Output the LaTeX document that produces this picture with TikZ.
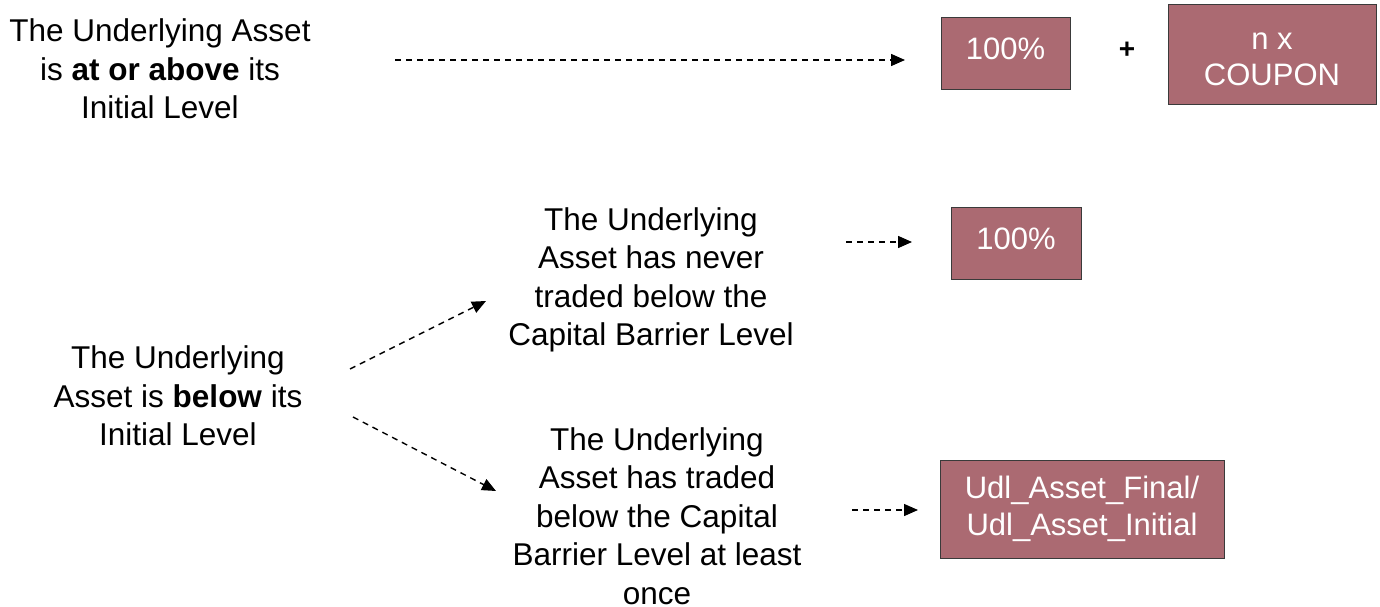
\documentclass[tikz,border=0pt]{standalone}
\usepackage{fontspec}
\setmainfont{Liberation Sans}
\usetikzlibrary{arrows.meta}
\definecolor{boxfill}{HTML}{AB6A72}
\definecolor{boxline}{HTML}{3A3A3A}
\tikzset{
  txt/.style={align=center,inner sep=0pt,font=\fontsize{31.5}{38.5}\selectfont},
  payoff/.style={draw=boxline,line width=1pt,fill=boxfill,text=white,align=center,inner sep=0pt,font=\fontsize{31}{37.5}\selectfont},
  payofftext/.style={text=white,align=center,inner sep=0pt,font=\fontsize{31}{35.5}\selectfont},
  darrow/.style={dashed,dash pattern=on 6pt off 5pt,line width=1.4pt,-{Triangle[length=14pt,width=12pt]}}
}
\begin{document}
\begin{tikzpicture}[x=1pt,y=-1pt]
\useasboundingbox (0,0) rectangle (1380,607);
% texts
\node[txt] (up) at (160,69) {The Underlying Asset\\is \textbf{at or above} its\\Initial Level};
\node[txt] (down) at (178,396) {The Underlying\\Asset is \textbf{below} its\\Initial Level};
\node[txt] (never) at (651,280) {The Underlying\\Asset has never\\traded below the\\Capital Barrier Level};
\node[txt] (once) at (657,516) {The Underlying\\Asset has traded\\below the Capital\\Barrier Level at least\\once};
% boxes
\node[payoff,minimum width=129pt,minimum height=72pt] (b1) at (1005.5,54) {\raisebox{10pt}{100\%}};
\node (plus) at (1127,50) {\fontsize{28}{30}\selectfont\textbf{+}};
\node[payoff,minimum width=208pt,minimum height=100pt,
      label={[payofftext,yshift=-4.5pt]center:{n x\\COUPON}}] (b2) at (1272,55) {};
\node[payoff,minimum width=130pt,minimum height=72pt] (b3) at (1016,243) {\raisebox{8pt}{100\%}};
\node[payoff,minimum width=284pt,minimum height=98pt] (b4) at (1082,509) {Udl\_Asset\_Final/\\Udl\_Asset\_Initial};
% arrow ends
\coordinate (a1s) at (395,60); \coordinate (a1e) at (905,60);
\coordinate (a2s) at (846,242); \coordinate (a2e) at (912,242);
\coordinate (a3s) at (350,369); \coordinate (a3e) at (486,301);
\coordinate (a4s) at (353,417); \coordinate (a4e) at (496,491);
\coordinate (a5s) at (852,510); \coordinate (a5e) at (918,510);
\draw[darrow] (a1s) -- (a1e);
\draw[darrow] (a2s) -- (a2e);
\draw[darrow] (a3s) -- (a3e);
\draw[darrow] (a4s) -- (a4e);
\draw[darrow] (a5s) -- (a5e);
\end{tikzpicture}
\end{document}
